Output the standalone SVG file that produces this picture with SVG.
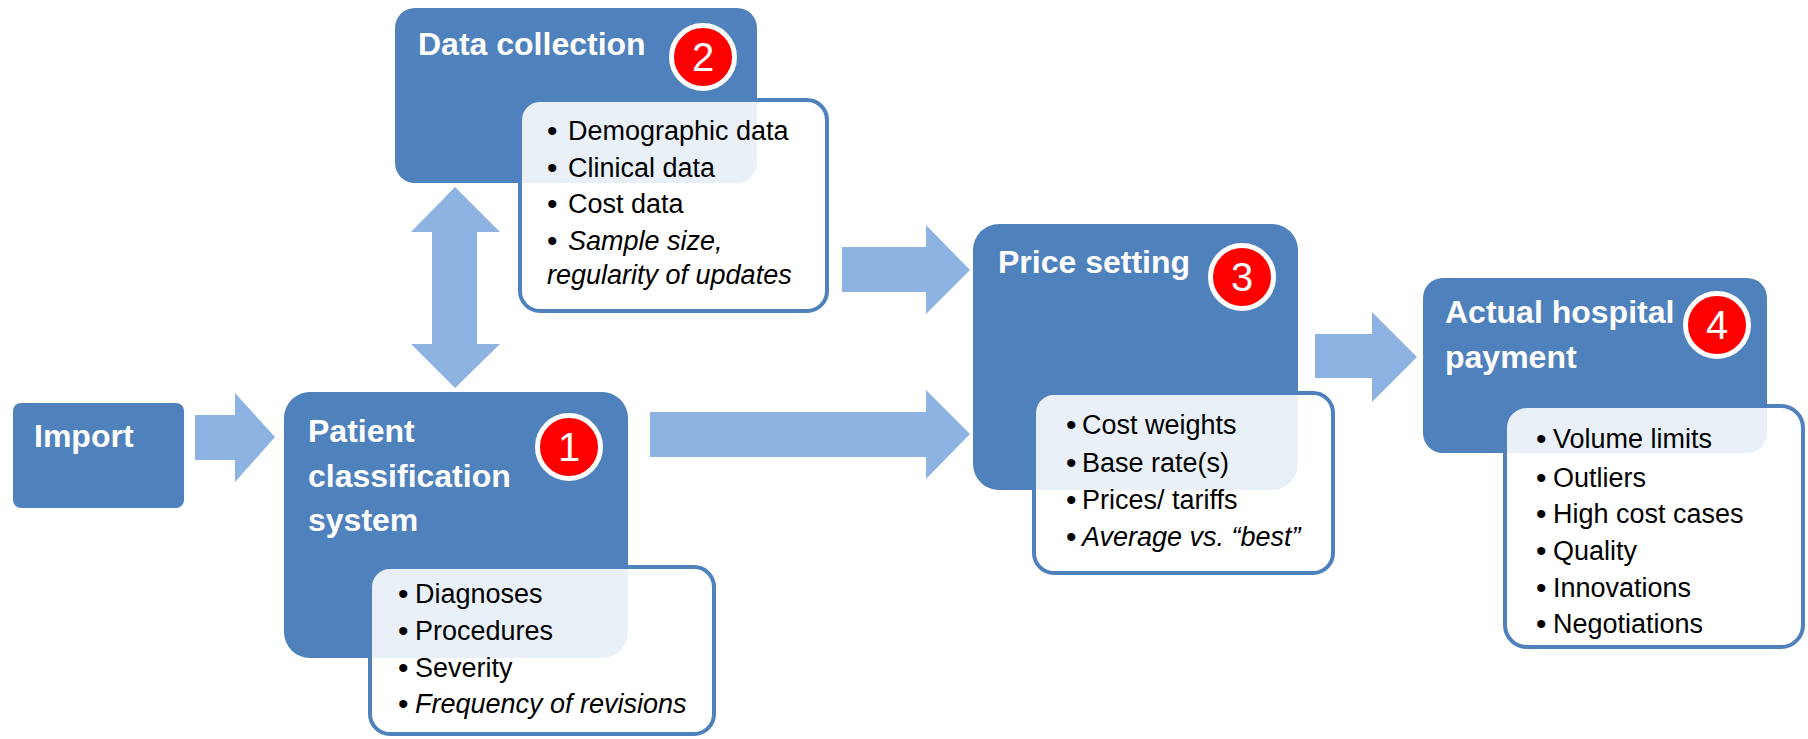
<svg xmlns="http://www.w3.org/2000/svg" width="1808" height="739" viewBox="0 0 1808 739">
  <style>
    .stage { fill: #4F81BD; }
    .detail { fill: #FFFFFF; fill-opacity: 0.88; stroke: #4F81BD; stroke-width: 4; }
    .arrow { fill: #8DB3E2; }
    .title { font-family: "Liberation Sans", Arial, sans-serif; font-weight: bold; font-size: 32px; fill: #FFFFFF; }
    .item { font-family: "Liberation Sans", Arial, sans-serif; font-size: 27px; fill: #000000; }
    .dot { font-size: 30px; }
    .em { font-style: italic; }
    .badge circle { fill: #FF0000; stroke: #FFFFFF; stroke-width: 5; }
    .badge text { font-family: "Liberation Sans", Arial, sans-serif; font-size: 40px; fill: #FFFFFF; text-anchor: middle; }
  </style>

  <!-- block arrows between the stages -->
  <g id="connectors">
    <polygon class="arrow" points="195,415 235,415 235,393 275,437 235,482 235,460 195,460"/>
    <polygon class="arrow" points="455,187 500,232 477,232 477,344 500,344 455,388 411,344 432,344 432,232 411,232"/>
    <polygon class="arrow" points="842,247 926,247 926,225 970,270 926,314 926,292 842,292"/>
    <polygon class="arrow" points="650,412 926,412 926,390 970,434 926,479 926,457 650,457"/>
    <polygon class="arrow" points="1315,334 1372,334 1372,312 1417,357 1372,402 1372,378 1315,378"/>
  </g>

  <g id="import">
    <rect class="stage" x="13" y="403" width="171" height="105" rx="8"/>
    <text class="title" x="34" y="447">Import</text>
  </g>

  <g id="patient-classification">
    <rect class="stage" x="284" y="392" width="344" height="266" rx="26"/>
    <text class="title" x="308" y="442">Patient</text>
    <text class="title" x="308" y="487">classification</text>
    <text class="title" x="308" y="531">system</text>
    <g class="badge">
      <circle cx="569" cy="447" r="31.5"/>
      <text x="569" y="461">1</text>
    </g>
    <rect class="detail" x="370" y="567" width="344" height="167" rx="20"/>
    <text class="item"><tspan class="dot" x="398" y="604">•</tspan><tspan x="415" y="603">Diagnoses</tspan></text>
    <text class="item"><tspan class="dot" x="398" y="641">•</tspan><tspan x="415" y="640">Procedures</tspan></text>
    <text class="item"><tspan class="dot" x="398" y="678">•</tspan><tspan x="415" y="677">Severity</tspan></text>
    <text class="item"><tspan class="dot" x="398" y="714">•</tspan><tspan x="415" y="713" class="em">Frequency of revisions</tspan></text>
  </g>

  <g id="data-collection">
    <rect class="stage" x="395" y="8" width="362" height="175" rx="20"/>
    <text class="title" x="418" y="55">Data collection</text>
    <g class="badge">
      <circle cx="703" cy="57" r="31.5"/>
      <text x="703" y="71">2</text>
    </g>
    <rect class="detail" x="520" y="100" width="307" height="211" rx="20"/>
    <text class="item"><tspan class="dot" x="547" y="141">•</tspan><tspan x="568" y="140">Demographic data</tspan></text>
    <text class="item"><tspan class="dot" x="547" y="178">•</tspan><tspan x="568" y="177">Clinical data</tspan></text>
    <text class="item"><tspan class="dot" x="547" y="214">•</tspan><tspan x="568" y="213">Cost data</tspan></text>
    <text class="item"><tspan class="dot" x="547" y="251">•</tspan><tspan x="568" y="250" class="em">Sample size,</tspan></text>
    <text class="item em" x="547" y="284">regularity of updates</text>
  </g>

  <g id="price-setting">
    <rect class="stage" x="973" y="224" width="325" height="266" rx="26"/>
    <text class="title" x="998" y="273">Price setting</text>
    <g class="badge">
      <circle cx="1242" cy="277" r="31.5"/>
      <text x="1242" y="291">3</text>
    </g>
    <rect class="detail" x="1034" y="393" width="299" height="180" rx="20"/>
    <text class="item"><tspan class="dot" x="1066" y="435">•</tspan><tspan x="1082" y="434">Cost weights</tspan></text>
    <text class="item"><tspan class="dot" x="1066" y="473">•</tspan><tspan x="1082" y="472">Base rate(s)</tspan></text>
    <text class="item"><tspan class="dot" x="1066" y="510">•</tspan><tspan x="1082" y="509">Prices/ tariffs</tspan></text>
    <text class="item"><tspan class="dot" x="1066" y="547">•</tspan><tspan x="1082" y="546" class="em">Average vs. “best”</tspan></text>
  </g>

  <g id="hospital-payment">
    <rect class="stage" x="1423" y="278" width="344" height="175" rx="20"/>
    <text class="title" x="1445" y="323">Actual hospital</text>
    <text class="title" x="1445" y="368">payment</text>
    <g class="badge">
      <circle cx="1717" cy="325" r="31.5"/>
      <text x="1717" y="339">4</text>
    </g>
    <rect class="detail" x="1505" y="406" width="298" height="241" rx="22"/>
    <text class="item"><tspan class="dot" x="1536" y="449">•</tspan><tspan x="1553" y="448">Volume limits</tspan></text>
    <text class="item"><tspan class="dot" x="1536" y="488">•</tspan><tspan x="1553" y="487">Outliers</tspan></text>
    <text class="item"><tspan class="dot" x="1536" y="524">•</tspan><tspan x="1553" y="523">High cost cases</tspan></text>
    <text class="item"><tspan class="dot" x="1536" y="561">•</tspan><tspan x="1553" y="560">Quality</tspan></text>
    <text class="item"><tspan class="dot" x="1536" y="598">•</tspan><tspan x="1553" y="597">Innovations</tspan></text>
    <text class="item"><tspan class="dot" x="1536" y="634">•</tspan><tspan x="1553" y="633">Negotiations</tspan></text>
  </g>
</svg>
